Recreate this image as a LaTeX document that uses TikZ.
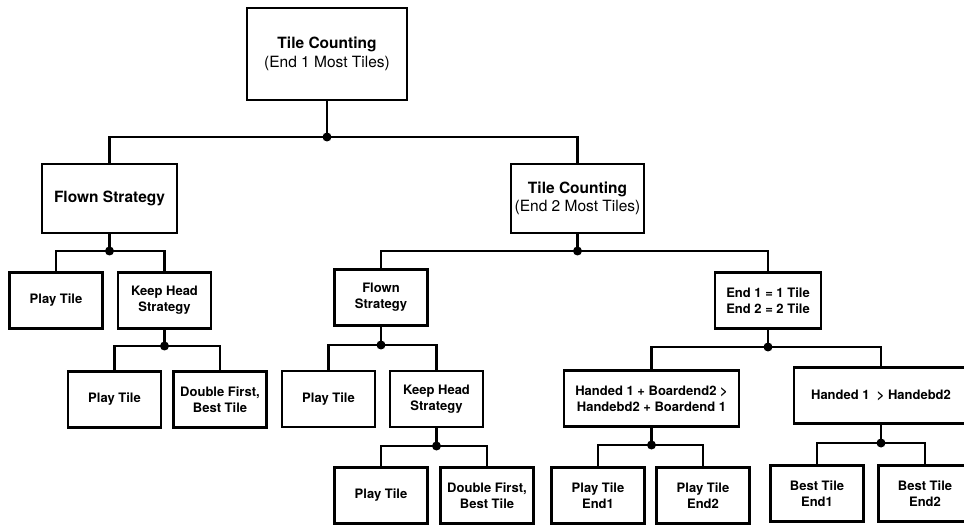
\documentclass[tikz,border=0pt]{standalone}
\usepackage{fontspec}
\setmainfont{TeX Gyre Heros}
\begin{document}
\begin{tikzpicture}[x=1pt,y=-1pt,
  box/.style={draw,line width=2.6pt,align=center,inner sep=0pt},
  bigbox/.style={box,font=\fontsize{15.5}{18.5}\selectfont},
  smallbox/.style={box,font=\bfseries\fontsize{13}{16}\selectfont,
    minimum width=93pt,minimum height=56pt},
  link/.style={line width=2.6pt}]
  \useasboundingbox (0,0) rectangle (964,526);
  \clip (0,0) rectangle (964,526);
  % top levels
  \node[bigbox,minimum width=160pt,minimum height=92pt] (root) at (327,54)
    {\textbf{Tile Counting}\\(End 1 Most Tiles)};
  \node[bigbox,font=\bfseries\fontsize{15.5}{18.5}\selectfont,
    minimum width=135pt,minimum height=69pt] (fs1) at (109.5,198.5) {Flown Strategy};
  \node[bigbox,minimum width=133pt,minimum height=69pt] (tc2) at (577.5,198.5)
    {\textbf{Tile Counting}\\(End 2 Most Tiles)};
  % left branch
  \node[smallbox] (pt1) at (56,300.5) {Play Tile};
  \node[smallbox] (kh1) at (164.5,300.5) {Keep Head\\Strategy};
  \node[smallbox] (pt2) at (114.5,399.5) {Play Tile};
  \node[smallbox] (df1) at (220,399.5) {Double First,\\Best Tile};
  % middle branch
  \node[smallbox] (fs2) at (381,297.5) {Flown\\Strategy};
  \node[smallbox] (pt3) at (328.5,399) {Play Tile};
  \node[smallbox] (kh2) at (436.5,399) {Keep Head\\Strategy};
  \node[smallbox] (pt4) at (381,495.5) {Play Tile};
  \node[smallbox] (df2) at (487,495.5) {Double First,\\Best Tile};
  % right branch
  \node[smallbox,minimum width=106pt] (eq) at (768,300.5) {End 1 = 1 Tile\\End 2 = 2 Tile};
  \node[smallbox,minimum width=175pt] (hp) at (651.5,398.5)
    {Handed 1 + Boardend2 >\\Handebd2 + Boardend 1};
  \node[smallbox,minimum width=174pt] (hg) at (881,395.5) {Handed 1~ > Handebd2};
  \node[smallbox] (pe1) at (598,495.5) {Play Tile\\End1};
  \node[smallbox] (pe2) at (703,495.5) {Play Tile\\End2};
  \node[smallbox] (be1) at (817,493.5) {Best Tile\\End1};
  \node[smallbox] (be2) at (925,493.5) {Best Tile\\End2};
  % connectors with junction dots
  \foreach \p/\j/\y/\a/\b in {root/j0/137/fs1/tc2, fs1/j1/251/pt1/kh1,
      kh1/j2/346/pt2/df1, tc2/j3/251/fs2/eq, fs2/j4/345/pt3/kh2,
      kh2/j5/446/pt4/df2, eq/j6/347/hp/hg, hp/j7/445/pe1/pe2,
      hg/j8/443/be1/be2} {
    \coordinate (\j) at (\p.south |- 0,\y);
    \draw[link] (\p.south) -- (\j);
    \draw[link] (\a.north) |- (\j) -| (\b.north);
    \fill (\j) circle (4.5pt);
  }
\end{tikzpicture}
\end{document}
